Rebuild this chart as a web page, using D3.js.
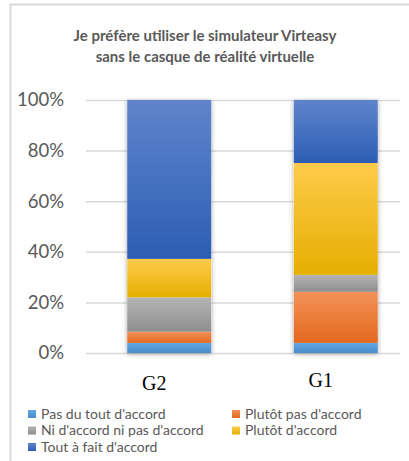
<!DOCTYPE html>
<html>
<head>
<meta charset="utf-8">
<script src="https://cdn.jsdelivr.net/npm/d3@7"></script>
<style>
  body { margin: 0; background: #fff; }
  svg { display: block; }
</style>
</head>
<body>
<div id="chart"></div>
<script>
// groups on the x axis
var groups = ["G2", "G1"];

// answer levels, bottom to top of each bar
var answers = ["Pas du tout d'accord", "Plutôt pas d'accord", "Ni d'accord ni pas d'accord", "Plutôt d'accord", "Tout à fait d'accord"];

// share (%) per answer, same order as groups
var pasDuTout = [4, 4];
var plutotPas = [4.4, 20.2];
var niNi = [13.6, 6.7];
var plutotAccord = [15.2, 44.2];
var toutAFait = [62.8, 24.9];

var yTicks = [0, 20, 40, 60, 80, 100];

var colors = [
    ["#62a6e2", "#4a8bcb"],
    ["#f2915a", "#e3681c"],
    ["#b3b3b3", "#8e8e8e"],
    ["#ffca4a", "#e4af00"],
    ["#5f84cc", "#2c5db3"]
];

var width = 409, height = 461;
var svg = d3.select("#chart").append("svg")
    .attr("width", width)
    .attr("height", height);

var defs = svg.append("defs");
colors.forEach(function (c, i) {
    var g = defs.append("linearGradient")
        .attr("id", "grad" + i)
        .attr("x1", 0).attr("y1", 0).attr("x2", 0).attr("y2", 1);
    g.append("stop").attr("offset", "0%").attr("stop-color", c[0]);
    g.append("stop").attr("offset", "50%").attr("stop-color", d3.interpolateRgb(c[0], c[1])(0.5));
    g.append("stop").attr("offset", "100%").attr("stop-color", c[1]);
});
var shadow = defs.append("filter").attr("id", "shadow")
    .attr("x", "-20%").attr("y", "-5%").attr("width", "140%").attr("height", "110%");
shadow.append("feDropShadow")
    .attr("dx", 0).attr("dy", 1).attr("stdDeviation", 2.5)
    .attr("flood-color", "#000").attr("flood-opacity", 0.35);

// chart frame (left and top edges visible)
svg.append("path")
    .attr("d", "M10.5," + height + "V4.5H" + width)
    .attr("fill", "none")
    .attr("stroke", "#d9d9d9")
    .attr("stroke-width", 2);

// title
var title = svg.append("text")
    .attr("text-anchor", "middle")
    .attr("font-family", "Lato, 'Open Sans', sans-serif")
    .attr("font-weight", "bold")
    .attr("font-size", 15)
    .attr("fill", "#595959");
title.append("tspan").attr("x", 205).attr("y", 41).text("Je préfère utiliser le simulateur Virteasy");
title.append("tspan").attr("x", 205).attr("y", 62).text("sans le casque de réalité virtuelle");

var y = d3.scaleLinear().domain([0, 100]).range([353, 100]);
var x = d3.scaleBand().domain(groups).range([86, 419])
    .paddingInner(0.495).paddingOuter(0.2475);

// y axis + gridlines
var yAxis = svg.append("g")
    .attr("transform", "translate(86,0)")
    .call(d3.axisLeft(y).tickValues(yTicks).tickSize(-314).tickPadding(22)
        .tickFormat(function (d) { return d + "%"; }));
yAxis.select(".domain").remove();
yAxis.selectAll("line").attr("stroke", "#d9d9d9").attr("stroke-width", 1.5);
yAxis.selectAll("text")
    .attr("font-family", "Lato, 'Open Sans', sans-serif")
    .attr("font-size", 18.5)
    .attr("fill", "#595959");

// stack the series
var seriesValues = [pasDuTout, plutotPas, niNi, plutotAccord, toutAFait];
var rows = groups.map(function (g, gi) {
    var r = { group: g };
    answers.forEach(function (a, ai) { r[a] = seriesValues[ai][gi]; });
    return r;
});
var stacked = d3.stack().keys(answers)(rows);

var bars = svg.append("g");
groups.forEach(function (g) {
    bars.append("rect")
        .attr("x", x(g))
        .attr("y", y(100))
        .attr("width", x.bandwidth())
        .attr("height", y(0) - y(100))
        .attr("fill", "#fff")
        .attr("filter", "url(#shadow)");
});
stacked.forEach(function (layer, i) {
    bars.selectAll(".s" + i)
        .data(layer)
        .enter()
        .append("rect")
        .attr("x", function (d) { return x(d.data.group); })
        .attr("y", function (d) { return y(d[1]); })
        .attr("width", x.bandwidth())
        .attr("height", function (d) { return y(d[0]) - y(d[1]); })
        .attr("fill", "url(#grad" + i + ")");
});

// group labels
svg.selectAll(".xlab")
    .data(groups)
    .enter()
    .append("text")
    .attr("x", function (d) { return x(d) + x.bandwidth() / 2 - 15; })
    .attr("y", function (d, i) { return i == 0 ? 390 : 387; })
    .attr("text-anchor", "middle")
    .attr("font-family", "'Liberation Serif', 'Times New Roman', serif")
    .attr("font-size", 20)
    .attr("fill", "#000")
    .text(function (d) { return d; });

// legend
var legend = svg.selectAll(".leg")
    .data(answers)
    .enter()
    .append("g")
    .attr("transform", function (d, i) {
        return "translate(" + (i % 2 == 0 ? 28 : 232) + "," + (414 + Math.floor(i / 2) * 16.5) + ")";
    });
legend.append("rect")
    .attr("x", 0).attr("y", -4)
    .attr("width", 8).attr("height", 8)
    .attr("fill", function (d, i) { return "url(#grad" + i + ")"; });
legend.append("text")
    .attr("x", 13)
    .attr("y", 0)
    .attr("dy", "0.35em")
    .attr("font-family", "Lato, 'Open Sans', sans-serif")
    .attr("font-size", 14)
    .attr("fill", "#595959")
    .text(function (d) { return d; });
</script>
</body>
</html>
